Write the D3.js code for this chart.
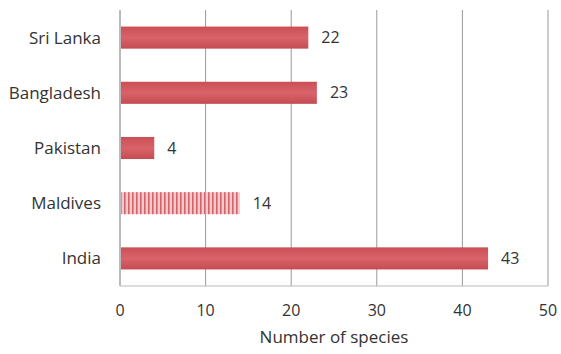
<!DOCTYPE html>
<html>
<head>
  <meta charset="utf-8">
  <title>Number of species</title>
  <script src="https://cdn.jsdelivr.net/npm/d3@7"></script>
  <style>
    body { margin: 0; background: #fff; }
    text { font-family: "Open Sans", "Noto Sans", sans-serif; fill: #333; }
  </style>
</head>
<body>
<script>
// data
var countries = ["Sri Lanka", "Bangladesh", "Pakistan", "Maldives", "India"];
var species = [22, 23, 4, 14, 43];
var hatched = ["Maldives"];
var xTicks = [0, 10, 20, 30, 40, 50];

var w = 561, h = 354;
var plotLeft = 120, plotRight = 548, plotTop = 10, plotBottom = 286;

var svg = d3.select("body").append("svg")
  .attr("width", w)
  .attr("height", h);

var defs = svg.append("defs");
var pat = defs.append("pattern")
  .attr("id", "stripes")
  .attr("patternUnits", "userSpaceOnUse")
  .attr("width", 4).attr("height", 4);
pat.append("rect").attr("width", 4).attr("height", 4).attr("fill", "#f4c9cc");
pat.append("rect").attr("x", 0).attr("width", 1.6).attr("height", 4).attr("fill", "#d2646c");

var grad = defs.append("linearGradient")
  .attr("id", "barFill")
  .attr("x1", 0).attr("y1", 0).attr("x2", 0).attr("y2", 1);
grad.append("stop").attr("offset", "0%").attr("stop-color", "#c94f55");
grad.append("stop").attr("offset", "50%").attr("stop-color", "#d9636a");
grad.append("stop").attr("offset", "100%").attr("stop-color", "#c54b52");

var x = d3.scaleLinear().domain([0, 50]).range([plotLeft, plotRight]);
var y = d3.scaleBand().domain(countries).range([plotTop, plotBottom]).paddingInner(0.6).paddingOuter(0.3);

// vertical grid lines
svg.append("g")
  .selectAll("line")
  .data(xTicks)
  .enter()
  .append("line")
  .attr("x1", function(d){ return x(d); })
  .attr("x2", function(d){ return x(d); })
  .attr("y1", plotTop)
  .attr("y2", plotBottom)
  .attr("stroke", function(d){ return d === 0 ? "#777" : "#999"; })
  .attr("stroke-width", 1);

// bottom line
svg.append("line")
  .attr("x1", x(0)).attr("x2", x(50))
  .attr("y1", plotBottom).attr("y2", plotBottom)
  .attr("stroke", "#bbb");

// bars
svg.selectAll("rect.bar")
  .data(countries)
  .enter()
  .append("rect")
  .attr("class", "bar")
  .attr("x", x(0) + 1)
  .attr("y", function(d){ return y(d); })
  .attr("width", function(d, i){ return x(species[i]) - x(0) - 1; })
  .attr("height", y.bandwidth())
  .attr("fill", function(d){ return hatched.indexOf(d) >= 0 ? "url(#stripes)" : "url(#barFill)"; });

// value labels
svg.selectAll("text.val")
  .data(countries)
  .enter()
  .append("text")
  .attr("class", "val")
  .attr("x", function(d, i){ return x(species[i]) + 13; })
  .attr("y", function(d){ return y(d) + y.bandwidth() / 2; })
  .attr("dy", "0.35em")
  .attr("font-size", "16px")
  .text(function(d, i){ return species[i]; });

// category labels
svg.selectAll("text.cat")
  .data(countries)
  .enter()
  .append("text")
  .attr("class", "cat")
  .attr("x", plotLeft - 19)
  .attr("y", function(d){ return y(d) + y.bandwidth() / 2; })
  .attr("dy", "0.35em")
  .attr("text-anchor", "end")
  .attr("font-size", "17px")
  .text(function(d){ return d; });

// x tick labels
svg.selectAll("text.tick")
  .data(xTicks)
  .enter()
  .append("text")
  .attr("class", "tick")
  .attr("x", function(d){ return x(d); })
  .attr("y", 316)
  .attr("text-anchor", "middle")
  .attr("font-size", "16px")
  .attr("fill", "#555")
  .text(function(d){ return d; });

svg.append("text")
  .attr("x", 334)
  .attr("y", 343)
  .attr("text-anchor", "middle")
  .attr("font-size", "17px")
  .attr("fill", "#222")
  .text("Number of species");
</script>
</body>
</html>
